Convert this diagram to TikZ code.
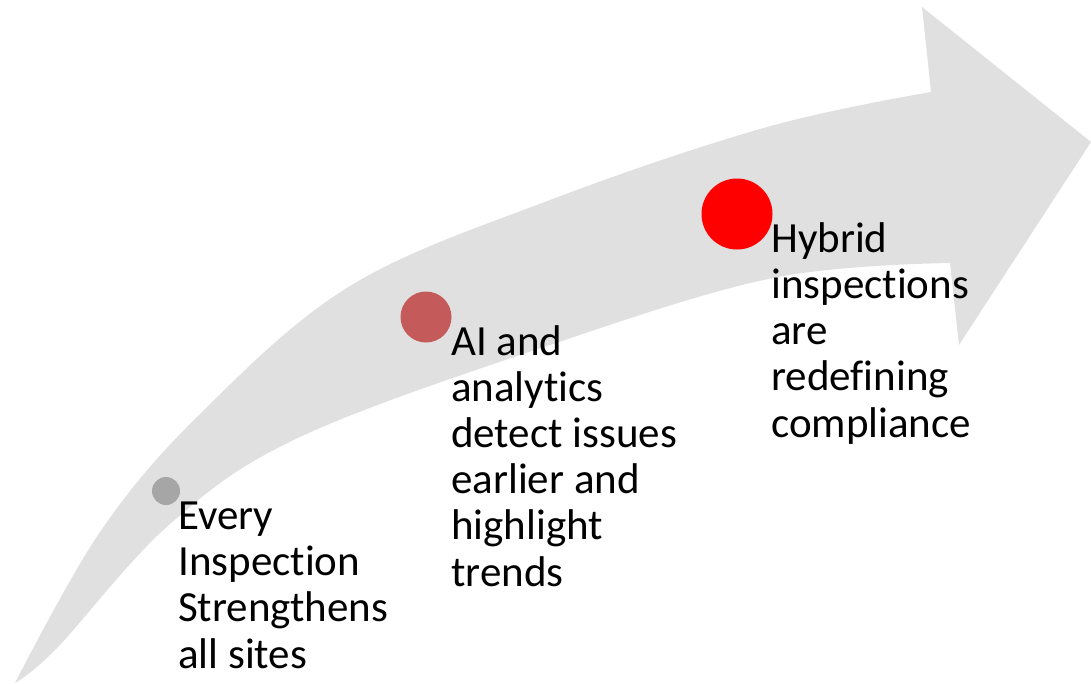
\documentclass[tikz,border=0pt]{standalone}
\usepackage{fontspec}
\setmainfont{Carlito}[Ligatures=NoCommon]
\definecolor{arrowgrey}{HTML}{E0E0E0}
\definecolor{dotgrey}{HTML}{A6A6A6}
\definecolor{dotrose}{HTML}{C55A5A}
\definecolor{dotred}{HTML}{FF0000}
\tikzset{
  dot/.style={circle, inner sep=0pt, draw=none},
  label/.style={inner sep=0pt, anchor=base west, align=left, text=black,
    font=\fontsize{43}{46.2}\selectfont},
}
\begin{document}
\begin{tikzpicture}[x=1pt, y=-1pt]
\useasboundingbox (0,0) rectangle (1091,683);
% curved arrow
\fill[arrowgrey]
  plot[smooth, tension=0.6] coordinates {(15,683) (100,532) (200,414) (350,286) (550,200) (767,127) (931,92)}
  -- (922,7) -- (1091,142) -- (959,345) -- (950,263)
  -- plot[smooth, tension=0.6] coordinates {(950,263) (773,278) (550,345) (300,437) (170,524) (57,648) (15,683)}
  -- cycle;
% markers
\node[dot, fill=dotgrey, minimum size=28pt] (d1) at (166,491) {};
\node[dot, fill=dotrose, minimum size=51pt] (d2) at (426,317) {};
\node[dot, fill=dotred, minimum size=71pt] (d3) at (737,214) {};
% texts (base anchor = baseline of last line)
\node[label] (t1) at (178,668) {Every\\Inspection\\Strengthens\\all sites};
\node[label] (t2) at (451,586) {AI and\\analytics\\detect issues\\earlier and\\highlight\\trends};
\node[label] (t3) at (771,437) {Hybrid\\inspections\\are\\redefining\\compliance};
\end{tikzpicture}
\end{document}
